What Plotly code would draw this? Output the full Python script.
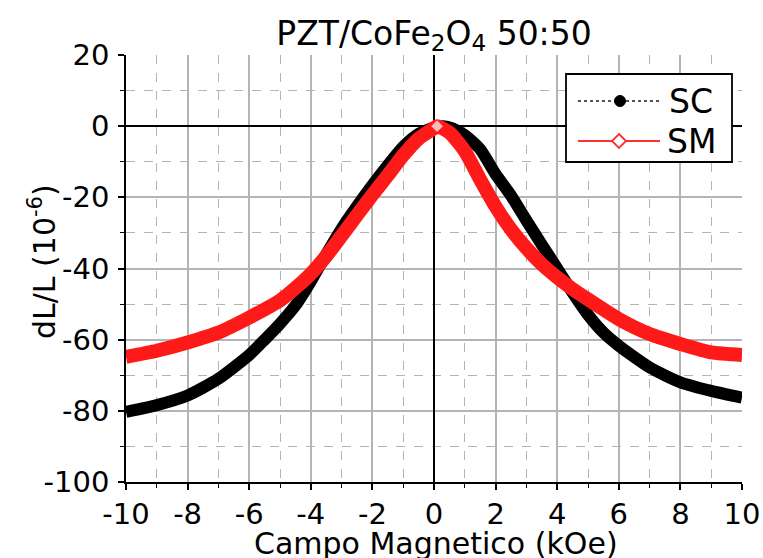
import plotly.graph_objects as go

# Magnetostriction curves, dL/L (x1e-6) versus applied field (kOe)
sc_field = [-10, -9, -8, -7, -6, -5.5, -5, -4.5, -4, -3.5, -3, -2.5, -2, -1.5, -1, -0.5,
            0, 0.3, 0.6, 1, 1.5, 2, 2.5, 3, 3.5, 4, 4.5, 5, 5.5, 6, 7, 8, 9, 10]
sc_strain = [-80.3, -78.4, -75.7, -71.0, -64.3, -60.0, -55.5, -50.4, -43.6, -36.0, -28.8,
             -22.5, -16.6, -11.0, -5.8, -2.2, -0.4, 0.0, -0.6, -2.5, -6.5, -13.5, -19.5,
             -26.5, -33.3, -40.0, -46.8, -53.0, -58.0, -61.7, -67.8, -72.0, -74.4, -76.3]

sm_field = [-10, -9, -8, -7, -6, -5, -4.5, -4, -3.5, -3, -2.5, -2, -1.5, -1, -0.5,
            0, 0.1, 0.5, 1, 1.5, 2, 2.5, 3, 3.5, 4, 4.5, 5, 5.5, 6, 7, 8, 9, 10]
sm_strain = [-64.8, -63.1, -60.8, -58.0, -53.8, -49.0, -45.5, -41.5, -36.5, -30.8, -25.0,
             -19.3, -13.8, -8.2, -3.5, -0.6, 0.0, -1.8, -7.0, -15.0, -22.6, -29.0, -34.3,
             -38.8, -42.5, -45.8, -48.7, -51.5, -54.2, -58.4, -61.2, -63.6, -64.3]

x_ticks = [-10, -8, -6, -4, -2, 0, 2, 4, 6, 8, 10]
x_tick_labels = ["-10", "-8", "-6", "-4", "-2", "0", "2", "4", "6", "8", "10"]
y_ticks = [-100, -80, -60, -40, -20, 0, 20]
y_tick_labels = ["-100", "-80", "-60", "-40", "-20", "0", "20"]

title_text = "PZT/CoFe<sub>2</sub>O<sub>4</sub> 50:50"
x_label = "Campo Magnetico (kOe)"
y_label = "dL/L (10<sup>-6</sup>)"
series_names = ["SC", "SM"]

FONT = "DejaVu Sans"
GRID = "#b4b4b4"

fig = go.Figure()

# SC: dense black points merge into a thick band
fig.add_trace(go.Scatter(
    x=sc_field, y=sc_strain, mode="lines", name=series_names[0], showlegend=False,
    line=dict(color="black", width=12, shape="spline", smoothing=0.6),
))

# SM: dense open red diamonds, drawn on top; only the apex shows its open centre
sm_fill = ["white" if f == 0.1 else "#ff1a1a" for f in sm_field]
sm_size = [9 if f == 0.1 else 0 for f in sm_field]
fig.add_trace(go.Scatter(
    x=sm_field, y=sm_strain, mode="lines+markers", name=series_names[1], showlegend=False,
    line=dict(color="#ff1a1a", width=14, shape="spline", smoothing=0.6),
    marker=dict(symbol="diamond", size=sm_size, color=sm_fill, line=dict(width=0)),
))

axis_common = dict(
    showline=True, linecolor="black", linewidth=1.5,
    ticks="outside", ticklen=6, tickwidth=1.5, tickcolor="black",
    showgrid=True, gridcolor=GRID, gridwidth=1.5,
    zeroline=True, zerolinecolor="black", zerolinewidth=1.5,
    tickfont=dict(family=FONT, size=29, color="black"),
    mirror=False, automargin=False,
)

fig.update_xaxes(
    range=[-10, 10], tickmode="array", tickvals=x_ticks, ticktext=x_tick_labels,
    **axis_common,
    minor=dict(dtick=1, tick0=-10, ticks="outside", ticklen=4, tickcolor="black",
               tickwidth=1.2, showgrid=True, gridcolor=GRID, gridwidth=1.3, griddash="dash"),
    ticklabelstandoff=-1,
)
fig.update_yaxes(
    range=[-100, 20], tickmode="array", tickvals=y_ticks, ticktext=y_tick_labels,
    **axis_common,
    minor=dict(dtick=10, tick0=-100, ticks="outside", ticklen=4, tickcolor="black",
               tickwidth=1.2, showgrid=True, gridcolor=GRID, gridwidth=1.3, griddash="dash"),
    ticklabelstandoff=3,
)

# Plot-area geometry used to place the legend box and axis titles in paper units
L, R, T, B = 126, 742, 55, 482
W, H = R - L, B - T


def px(xp):
    return (xp - L) / W


def py(yp):
    return (B - yp) / H


shapes = [
    # legend frame
    dict(type="rect", xref="paper", yref="paper", x0=px(566), x1=px(732), y0=py(162), y1=py(74),
         line=dict(color="black", width=1.8), fillcolor="white", layer="above"),
    # SC sample: dotted line with filled circle
    dict(type="line", xref="paper", yref="paper", x0=px(578), x1=px(660), y0=py(101), y1=py(101),
         line=dict(color="#555555", width=2.2, dash="dot"), layer="above"),
    dict(type="circle", xref="paper", yref="paper", x0=px(614.5), x1=px(625.5),
         y0=py(106.5), y1=py(95.5), line=dict(color="black", width=1),
         fillcolor="black", layer="above"),
    # SM sample: solid red line with open diamond
    dict(type="line", xref="paper", yref="paper", x0=px(578), x1=px(660), y0=py(141), y1=py(141),
         line=dict(color="#ff3030", width=2), layer="above"),
    dict(type="path", xref="paper", yref="paper",
         path=f"M {px(619)},{py(134)} L {px(626)},{py(141)} L {px(619)},{py(148)} "
              f"L {px(612)},{py(141)} Z",
         line=dict(color="#ff3030", width=1.8), fillcolor="white", layer="above"),
]

label_font = dict(family=FONT, size=30, color="black")
annotations = [
    dict(text=series_names[0], xref="paper", yref="paper", x=px(667), y=py(101),
         xanchor="left", yanchor="middle", showarrow=False,
         font=dict(family=FONT, size=33, color="black")),
    dict(text=series_names[1], xref="paper", yref="paper", x=px(665), y=py(141),
         xanchor="left", yanchor="middle", showarrow=False,
         font=dict(family=FONT, size=33, color="black")),
    # axis titles
    dict(text=x_label, xref="paper", yref="paper", x=px(436), y=py(543),
         xanchor="center", yanchor="middle", showarrow=False, font=label_font),
    dict(text=y_label, xref="paper", yref="paper", x=px(42), y=py(262),
         xanchor="center", yanchor="middle", textangle=-90, showarrow=False, font=label_font),
]

fig.update_layout(
    width=763, height=558,
    margin=dict(l=L, r=763 - R, t=T, b=558 - B, pad=0, autoexpand=False),
    paper_bgcolor="white", plot_bgcolor="white",
    title=dict(text=title_text, x=(L + W / 2) / 763, xanchor="center",
               y=1 - 33 / 558, yanchor="middle", yref="container", automargin=False,
               font=dict(family=FONT, size=33, color="black")),
    shapes=shapes, annotations=annotations,
    showlegend=False,
)

fig.write_html("out.html")
